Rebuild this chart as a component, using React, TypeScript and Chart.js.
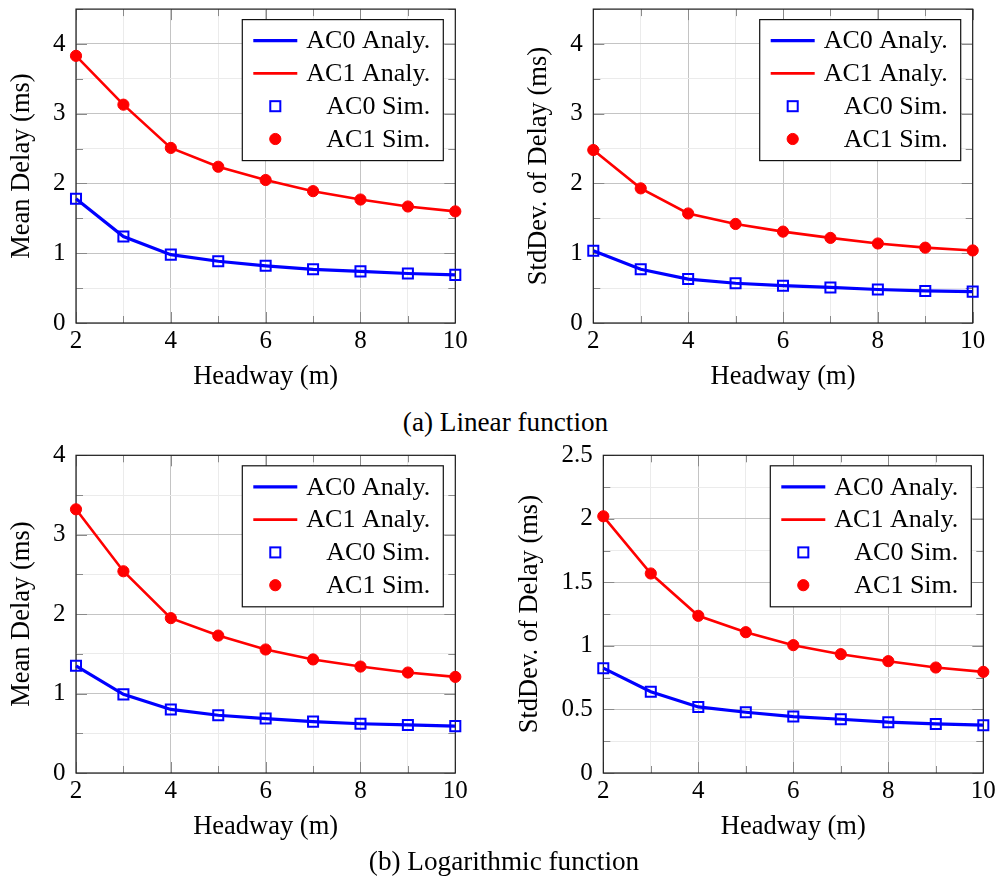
import React, { useEffect, useRef } from 'react';
import { Chart, registerables } from 'chart.js';

Chart.register(...registerables);

// ---- data ----
const headway = [2, 3, 4, 5, 6, 7, 8, 9, 10];
const xMajorTicks = [2, 4, 6, 8, 10];

const linMeanAC0 = [1.78, 1.24, 0.98, 0.885, 0.82, 0.77, 0.74, 0.71, 0.69];
const linMeanAC1 = [3.83, 3.13, 2.51, 2.24, 2.05, 1.89, 1.77, 1.67, 1.6];
const linStdAC0 = [1.035, 0.77, 0.63, 0.57, 0.535, 0.51, 0.48, 0.46, 0.45];
const linStdAC1 = [2.48, 1.93, 1.57, 1.42, 1.31, 1.22, 1.14, 1.08, 1.04];
const logMeanAC0 = [1.35, 0.99, 0.8, 0.727, 0.685, 0.647, 0.62, 0.605, 0.59];
const logMeanAC1 = [3.32, 2.54, 1.95, 1.73, 1.555, 1.43, 1.34, 1.265, 1.21];
const logStdAC0 = [0.825, 0.64, 0.52, 0.478, 0.444, 0.423, 0.4, 0.386, 0.376];
const logStdAC1 = [2.02, 1.57, 1.237, 1.108, 1.006, 0.935, 0.88, 0.83, 0.796];

const seriesLabels = ['AC0 Analy.', 'AC1 Analy.', 'AC0 Sim.', 'AC1 Sim.'];
const xTitle = 'Headway (m)';
const yTitleMean = 'Mean Delay (ms)';
const yTitleStd = 'StdDev. of Delay (ms)';
const captions = ['(a) Linear function', '(b) Logarithmic function'];

// ---- styles ----
const FONT = '"Liberation Serif", Tinos, Times, monospace';
const BLUE = '#0000ff';
const RED = '#ff0000';
const MAJOR_GRID = '#c4c4c4';
const MINOR_GRID = '#ebebeb';
const TICK_COLOR = '#8a8a8a';

type Panel = {
  ac0: number[];
  ac1: number[];
  yTitle: string;
  yMax: number;
  yMinor: number;
  yMajor: number;
  left: number;
  top: number;
  w: number;
  h: number;
  padL: number;
  padT: number;
  padR: number;
  yAxisW: number;
};

const panels: Panel[] = [
  { ac0: linMeanAC0, ac1: linMeanAC1, yTitle: yTitleMean, yMax: 4.5, yMinor: 0.5, yMajor: 1,
    left: 0, top: 0, w: 500, h: 400, padL: 0, padT: 5.3, padR: 44.7, yAxisW: 76 },
  { ac0: linStdAC0, ac1: linStdAC1, yTitle: yTitleStd, yMax: 4.5, yMinor: 0.5, yMajor: 1,
    left: 500, top: 0, w: 499, h: 400, padL: 17.3, padT: 5.3, padR: 26.3, yAxisW: 76 },
  { ac0: logMeanAC0, ac1: logMeanAC1, yTitle: yTitleMean, yMax: 4, yMinor: 0.5, yMajor: 1,
    left: 0, top: 440, w: 500, h: 410, padL: 0, padT: 15.3, padR: 44.7, yAxisW: 76 },
  { ac0: logStdAC0, ac1: logStdAC1, yTitle: yTitleStd, yMax: 2.5, yMinor: 0.25, yMajor: 0.5,
    left: 500, top: 440, w: 499, h: 410, padL: 8.3, padT: 15.3, padR: 15.7, yAxisW: 95 },
];

const isMult = (v: number, m: number) => Math.abs(v / m - Math.round(v / m)) < 1e-6;

const frameTicksPlugin = {
  id: 'frameTicks',
  beforeDatasetsDraw(chart: any) {
    const { ctx, chartArea: a, scales } = chart;
    const xs = scales.x;
    const ys = scales.y;
    const major = chart.options.plugins.frameTicks.yMajor as number;
    ctx.save();
    ctx.strokeStyle = TICK_COLOR;
    ctx.lineWidth = 1;
    ctx.beginPath();
    xs.ticks.forEach((t: any) => {
      const px = Math.round(xs.getPixelForValue(t.value)) + 0.5;
      const len = xMajorTicks.includes(t.value) ? 11 : 7;
      ctx.moveTo(px, a.bottom);
      ctx.lineTo(px, a.bottom - len);
      ctx.moveTo(px, a.top);
      ctx.lineTo(px, a.top + len);
    });
    ys.ticks.forEach((t: any) => {
      const py = Math.round(ys.getPixelForValue(t.value)) + 0.5;
      const len = isMult(t.value, major) ? 11 : 7;
      ctx.moveTo(a.left, py);
      ctx.lineTo(a.left + len, py);
      ctx.moveTo(a.right, py);
      ctx.lineTo(a.right - len, py);
    });
    ctx.stroke();
    ctx.strokeStyle = '#1e1e1e';
    ctx.lineWidth = 1.2;
    ctx.strokeRect(a.left, a.top, a.right - a.left, a.bottom - a.top);
    ctx.restore();
  },
};

const legendPlugin = {
  id: 'boxLegend',
  afterDraw(chart: any) {
    const { ctx, chartArea: a } = chart;
    const right = a.right - 12;
    const left = right - 201;
    const top = a.top + 10.5;
    const h = 141;
    ctx.save();
    ctx.fillStyle = '#ffffff';
    ctx.fillRect(left, top, right - left, h);
    ctx.strokeStyle = '#111111';
    ctx.lineWidth = 1.2;
    ctx.strokeRect(left, top, right - left, h);
    chart.data.datasets.forEach((ds: any, i: number) => {
      const cy = top + 21 + i * 32.8;
      const cx = left + 33;
      if (ds.showLine !== false) {
        ctx.strokeStyle = ds.borderColor;
        ctx.lineWidth = ds.borderWidth;
        ctx.beginPath();
        ctx.moveTo(left + 11, cy);
        ctx.lineTo(left + 55, cy);
        ctx.stroke();
      } else if (ds.pointStyle === 'rect') {
        const s = Math.SQRT1_2 * ds.pointRadius;
        ctx.strokeStyle = ds.pointBorderColor;
        ctx.lineWidth = ds.pointBorderWidth;
        ctx.strokeRect(cx - s, cy - s, 2 * s, 2 * s);
      } else {
        ctx.fillStyle = ds.pointBackgroundColor;
        ctx.strokeStyle = ds.pointBorderColor;
        ctx.lineWidth = ds.pointBorderWidth;
        ctx.beginPath();
        ctx.arc(cx, cy, ds.pointRadius, 0, Math.PI * 2);
        ctx.fill();
        ctx.stroke();
      }
      ctx.fillStyle = '#000';
      ctx.font = `26px ${FONT}`;
      ctx.textAlign = 'right';
      ctx.textBaseline = 'alphabetic';
      ctx.fillText(ds.label, right - 13, cy + 7.8);
    });
    ctx.restore();
  },
};

function makeConfig(p: Panel): any {
  const pts = (arr: number[]) => headway.map((x, i) => ({ x, y: arr[i] }));
  return {
    type: 'line',
    data: {
      datasets: [
        { label: seriesLabels[0], data: pts(p.ac0), borderColor: BLUE, borderWidth: 3.2, pointRadius: 0,
          tension: 0, clip: false, order: 2, fill: false },
        { label: seriesLabels[1], data: pts(p.ac1), borderColor: RED, borderWidth: 2.6, pointRadius: 0,
          tension: 0, clip: false, order: 2, fill: false },
        { label: seriesLabels[2], data: pts(p.ac0), showLine: false, pointStyle: 'rect', pointRadius: 7.1,
          pointBorderWidth: 2, pointBorderColor: BLUE, pointBackgroundColor: 'rgba(0,0,0,0)', borderColor: BLUE,
          clip: false, order: 1 },
        { label: seriesLabels[3], data: pts(p.ac1), showLine: false, pointStyle: 'circle', pointRadius: 5.6,
          pointBorderWidth: 1, pointBorderColor: RED, pointBackgroundColor: RED, borderColor: RED,
          clip: false, order: 1 },
      ],
    },
    options: {
      animation: false,
      responsive: false,
      maintainAspectRatio: false,
      devicePixelRatio: 1,
      font: { family: FONT },
      layout: { padding: { left: p.padL, top: p.padT, right: p.padR, bottom: 0 } },
      plugins: { legend: { display: false }, tooltip: { enabled: false }, frameTicks: { yMajor: p.yMajor } },
      scales: {
        x: {
          type: 'linear',
          min: 2,
          max: 10,
          ticks: {
            stepSize: 1,
            autoSkip: false,
            maxRotation: 0,
            padding: 3.4,
            color: '#000',
            font: { family: FONT, size: 25 },
            callback: (v: number) => (xMajorTicks.includes(v) ? String(v) : ''),
          },
          grid: {
            drawTicks: false,
            lineWidth: 1,
            color: (c: any) => (c.tick && xMajorTicks.includes(c.tick.value) ? MAJOR_GRID : MINOR_GRID),
          },
          border: { display: false },
          title: {
            display: true,
            text: xTitle,
            color: '#000',
            font: { family: FONT, size: 26.5 },
            padding: { top: 0, bottom: 6.9 },
          },
          afterFit: (s: any) => {
            s.height = 77;
            s.paddingLeft = 0;
            s.paddingRight = 0;
          },
        },
        y: {
          type: 'linear',
          min: 0,
          max: p.yMax,
          ticks: {
            stepSize: p.yMinor,
            autoSkip: false,
            padding: 10.5,
            color: '#000',
            font: { family: FONT, size: 25 },
            callback: (v: number) => (isMult(v, p.yMajor) ? String(Math.round(v * 100) / 100) : ''),
          },
          grid: {
            drawTicks: false,
            lineWidth: 1,
            color: (c: any) => (c.tick && isMult(c.tick.value, p.yMajor) ? MAJOR_GRID : MINOR_GRID),
          },
          border: { display: false },
          title: {
            display: true,
            text: p.yTitle,
            color: '#000',
            font: { family: FONT, size: 26.5 },
            padding: { top: 6.1, bottom: 0 },
          },
          afterFit: (s: any) => {
            s.width = p.yAxisW;
            s.paddingTop = 0;
            s.paddingBottom = 0;
          },
        },
      },
    },
    plugins: [frameTicksPlugin, legendPlugin],
  };
}

function PanelChart({ p }: { p: Panel }) {
  const ref = useRef<HTMLCanvasElement | null>(null);
  useEffect(() => {
    if (!ref.current) return;
    const chart = new Chart(ref.current, makeConfig(p));
    return () => chart.destroy();
  }, [p]);
  return (
    <div style={{ position: 'absolute', left: p.left, top: p.top, width: p.w, height: p.h }}>
      <canvas ref={ref} width={p.w} height={p.h} style={{ width: p.w, height: p.h, display: 'block' }} />
    </div>
  );
}

export default function App() {
  const capStyle: React.CSSProperties = {
    position: 'absolute',
    left: 0,
    width: 1011,
    textAlign: 'center',
    fontFamily: FONT,
    fontSize: 27.2,
    lineHeight: '1',
    color: '#000',
    whiteSpace: 'nowrap',
  };
  return (
    <div style={{ position: 'absolute', left: 0, top: 0, width: 999, height: 886, background: '#fff', overflow: 'hidden' }}>
      {panels.map((p, i) => (
        <PanelChart key={i} p={p} />
      ))}
      <div style={{ ...capStyle, top: 409 }}>{captions[0]}</div>
      <div style={{ ...capStyle, top: 848, width: 1008 }}>{captions[1]}</div>
    </div>
  );
}
